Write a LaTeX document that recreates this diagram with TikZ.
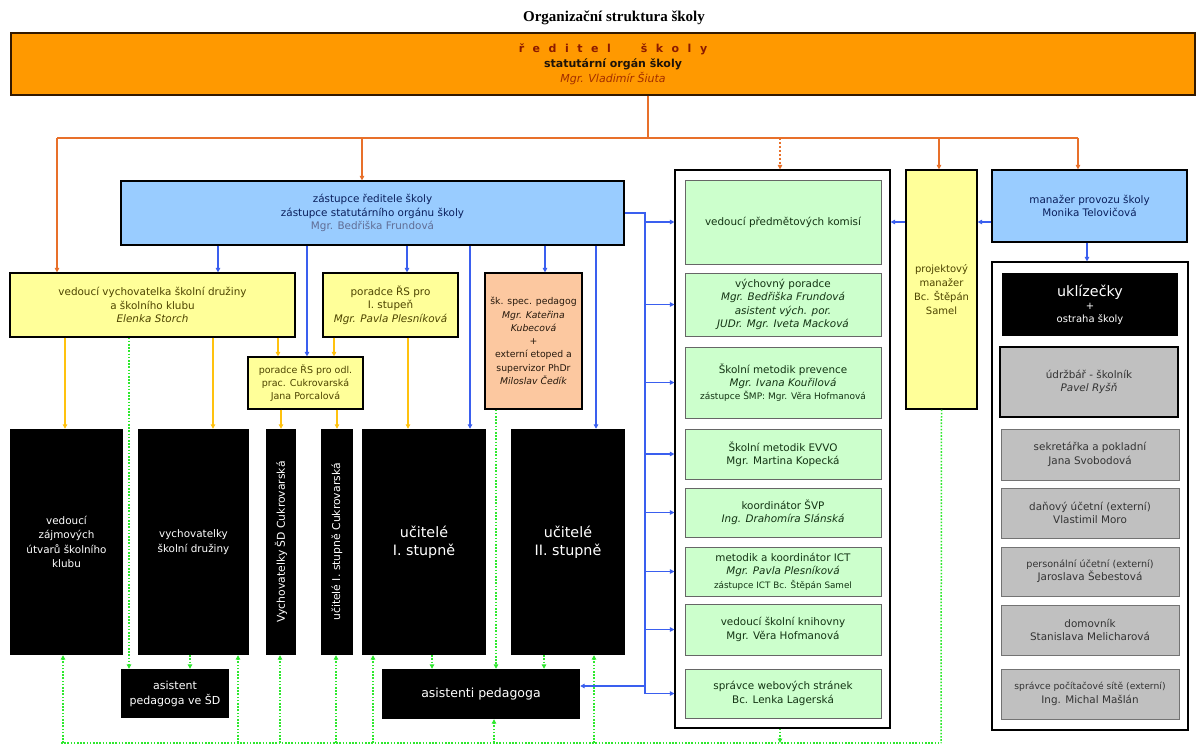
\documentclass[tikz,border=0pt]{standalone}
\usepackage{fontspec}
\setmainfont{DejaVu Sans}
\newfontfamily\titlefont{Liberation Serif}
\usetikzlibrary{arrows.meta}
\definecolor{hdrfill}{HTML}{FF9900}
\definecolor{ocol}{HTML}{E8702A}
\definecolor{bluefill}{HTML}{99CCFF}
\definecolor{bcol}{HTML}{3A5FEF}
\definecolor{yelfill}{HTML}{FFFF99}
\definecolor{ycol}{HTML}{FFC20E}
\definecolor{peachfill}{HTML}{FCC8A0}
\definecolor{grnfill}{HTML}{CCFFCC}
\definecolor{gcol}{HTML}{2EE82E}
\definecolor{greyfill}{HTML}{C0C0C0}
\definecolor{hdrred}{HTML}{8B1A00}
\definecolor{navy}{HTML}{0A1F5C}
\definecolor{olive}{HTML}{4D4400}
\definecolor{dkgreen}{HTML}{133313}
\newcommand{\mkbox}[7]{\node[#6,minimum width={(#4-#2)*1pt},minimum height={(#5-#3)*1pt}] (#1) at ({(#2+#4)/2},{(#3+#5)/2}) {#7};}
\newcommand{\fs}[2]{\fontsize{#1}{#2}\selectfont}
\newcommand{\lsp}{\hspace{8.5pt}}
\newcommand{\hsh}{\hspace*{20pt}}
\tikzset{
  base/.style={align=center,inner sep=1pt,font=\fs{10.4}{13.3}},
  hdrbox/.style={base,draw=black!80!orange,line width=1.3pt,fill=hdrfill},
  bluebox/.style={base,draw=black,line width=1.2pt,fill=bluefill,text=navy},
  yelbox/.style={base,draw=black,line width=1.2pt,fill=yelfill,text=olive},
  peachbox/.style={base,draw=black,line width=1.2pt,fill=peachfill,text=black!80!brown},
  blackbox/.style={base,fill=black,text=white},
  frame/.style={draw=black,line width=1.2pt,fill=white},
  grnbox/.style={base,draw=black!60,line width=0.9pt,fill=grnfill,text=dkgreen},
  greybox/.style={base,draw=black!55,line width=0.9pt,fill=greyfill,text=black!80},
  tipA/.style={-{Triangle[length=4.5pt,width=4.5pt]}},
  ocon/.style={draw=ocol,line width=1.5pt},
  bcon/.style={draw=bcol,line width=1.5pt},
  ycon/.style={draw=ycol,line width=1.5pt},
  gcon/.style={draw=gcol,line width=1.5pt,dash pattern=on 1.6pt off 1.6pt},
}
\begin{document}
\begin{tikzpicture}[x=1pt,y=-1pt]
\fill[white] (0,0) rectangle (1202,746);
\useasboundingbox (0,0) rectangle (1202,746);
\node[font=\titlefont\bfseries\fs{15}{17}] (title) at (614,18) {Organizační struktura školy};
% header
\mkbox{head}{11}{33}{1195}{95}{hdrbox,font=\fs{11}{15}}{\hsh{\color{hdrred}\bfseries ř\lsp e\lsp d\lsp i\lsp t\lsp e\lsp l\hspace{30pt}š\lsp k\lsp o\lsp l\lsp y}\\\hsh{\color{black!85!brown}\bfseries statutární orgán školy}\\\hsh{\color{hdrred!80!orange}\itshape Mgr. Vladimír Šiuta}}
% blue deputy
\mkbox{zast}{121}{181}{624}{245}{bluebox}{zástupce ředitele školy\\zástupce statutárního orgánu školy\\{\color{navy!65!white}Mgr. Bedřiška Frundová}}
% yellow
\mkbox{yl}{10}{273}{295}{337}{yelbox}{vedoucí vychovatelka školní družiny\\a školního klubu\\\textit{Elenka Storch}}
\mkbox{yp}{323}{273}{458}{337}{yelbox}{poradce ŘS pro\\I. stupeň\\\textit{Mgr. Pavla Plesníková}}
\mkbox{ys}{248}{357}{363}{409}{yelbox,font=\fs{9.5}{13}}{poradce ŘS pro odl.\\prac. Cukrovarská\\Jana Porcalová}
\mkbox{os}{485}{273}{582}{409}{peachbox,font=\fs{9.3}{13.3}}{šk. spec. pedagog\\\textit{Mgr. Kateřina}\\\textit{Kubecová}\\+\\externí etoped a\\supervizor PhDr\\\textit{Miloslav Čedík}}
% black boxes
\mkbox{b1}{10}{429}{123}{655}{blackbox,font=\fs{10.4}{14.5}}{vedoucí\\zájmových\\útvarů školního\\klubu}
\mkbox{b2}{138}{429}{249}{655}{blackbox,font=\fs{10.4}{14.5}}{vychovatelky\\školní družiny}
\mkbox{b3}{266}{429}{296}{655}{blackbox}{}
\node[rotate=90,text=white,font=\fs{10.8}{13}] (b3t) at (b3) {Vychovatelky ŠD Cukrovarská};
\mkbox{b4}{321}{429}{353}{655}{blackbox}{}
\node[rotate=90,text=white,font=\fs{10.8}{13}] (b4t) at (b4) {učitelé I. stupně Cukrovarská};
\mkbox{b5}{362}{429}{486}{655}{blackbox,font=\fs{14.3}{18}}{učitelé\\I. stupně}
\mkbox{b6}{511}{429}{625}{655}{blackbox,font=\fs{14.3}{18}}{učitelé\\II. stupně}
\mkbox{asd}{121}{669}{229}{718}{blackbox,font=\fs{11}{15}}{asistent\\pedagoga ve ŠD}
\mkbox{asp}{382}{669}{580}{719}{blackbox,font=\fs{12.5}{15}}{asistenti pedagoga}
% green column
\mkbox{gc}{675}{170}{890}{728}{frame}{}
\mkbox{g1}{685}{180}{881}{264}{grnbox}{vedoucí předmětových komisí}
\mkbox{g2}{685}{273}{881}{336}{grnbox}{výchovný poradce\\\textit{Mgr. Bedřiška Frundová}\\\textit{asistent vých. por.}\\\textit{JUDr. Mgr. Iveta Macková}}
\mkbox{g3}{685}{347}{881}{418}{grnbox}{Školní metodik prevence\\\textit{Mgr. Ivana Kouřilová}\\{\fs{9}{12}zástupce ŠMP: Mgr. Věra Hofmanová}}
\mkbox{g4}{685}{429}{881}{479}{grnbox}{Školní metodik EVVO\\Mgr. Martina Kopecká}
\mkbox{g5}{685}{488}{881}{537}{grnbox}{koordinátor ŠVP\\\textit{Ing. Drahomíra Slánská}}
\mkbox{g6}{685}{547}{881}{596}{grnbox}{metodik a koordinátor ICT\\\textit{Mgr. Pavla Plesníková}\\{\fs{8.8}{12}zástupce ICT Bc. Štěpán Samel}}
\mkbox{g7}{685}{604}{881}{655}{grnbox}{vedoucí školní knihovny\\Mgr. Věra Hofmanová}
\mkbox{g8}{685}{669}{881}{718}{grnbox}{správce webových stránek\\Bc. Lenka Lagerská}
% right side
\mkbox{pm}{906}{170}{977}{409}{yelbox,font=\fs{10}{14}}{projektový\\manažer\\Bc. Štěpán\\Samel}
\mkbox{mp}{992}{170}{1187}{242}{bluebox}{manažer provozu školy\\Monika Telovičová}
\mkbox{rc}{992}{262}{1188}{730}{frame}{}
\mkbox{r1}{1002}{273}{1178}{336}{blackbox,font=\fs{10}{13}}{{\fs{14.3}{17}uklízečky}\\+\\ostraha školy}
\mkbox{r2}{1000}{347}{1178}{417}{greybox,draw=black,line width=1.2pt}{údržbář - školník\\\textit{Pavel Ryšň}}
\mkbox{r3}{1001}{429}{1179}{480}{greybox}{sekretářka a pokladní\\Jana Svobodová}
\mkbox{r4}{1001}{488}{1179}{538}{greybox}{daňový účetní (externí)\\Vlastimil Moro}
\mkbox{r5}{1001}{547}{1179}{596}{greybox}{{\fs{9.6}{13}personální účetní (externí)}\\Jaroslava Šebestová}
\mkbox{r6}{1001}{605}{1179}{655}{greybox}{domovník\\Stanislava Melicharová}
\mkbox{r7}{1001}{669}{1179}{719}{greybox}{{\fs{9.2}{13}správce počítačové sítě (externí)}\\Ing. Michal Mašlán}
% orange connectors
\coordinate (ob) at (648,138);
\coordinate (o1) at (57,138);
\coordinate (o2) at (362,138);
\coordinate (o3) at (780,138);
\coordinate (o4) at (939,138);
\coordinate (o5) at (1078,138);
\draw[ocon] (head.south -| ob) -- (ob);
\draw[ocon] (o1) -- (o5);
\draw[ocon,tipA] (o1) -- (yl.north -| o1);
\draw[ocon,tipA] (o2) -- (zast.north -| o2);
\draw[ocon,tipA,dash pattern=on 2pt off 2pt] (o3) -- (gc.north -| o3);
\draw[ocon,tipA] (o4) -- (pm.north -| o4);
\draw[ocon,tipA] (o5) -- (mp.north -| o5);
% blue connectors
\foreach \x/\t in {218/yl,307/ys,407/yp,470/b5,545/os,596/b6}
  \draw[bcon,tipA] (zast.south -| \x,0) -- (\t.north -| \x,0);
\coordinate (bt) at (645,213);
\coordinate (ba) at (645,686);
\draw[bcon] (zast.east |- bt) -- (bt) -- (bt |- g8);
\foreach \g in {g1,g2,g3,g4,g5,g6,g7,g8}
  \draw[bcon,tipA] (bt |- \g) -- (gc.west |- \g);
\draw[bcon,tipA] (ba) -- (asp.east |- ba);
\draw[bcon,tipA] (pm.west |- g1) -- (gc.east |- g1);
\draw[bcon,tipA] (mp.west |- g1) -- (pm.east |- g1);
\draw[bcon,tipA] (mp.south -| 1087,0) -- (rc.north -| 1087,0);
% yellow connectors
\draw[ycon,tipA] (yl.south -| 65,0) -- (b1.north -| 65,0);
\draw[ycon,tipA] (yl.south -| 213,0) -- (b2.north -| 213,0);
\draw[ycon,tipA] (yl.south -| 278,0) -- (ys.north -| 278,0);
\draw[ycon,tipA] (yp.south -| 334,0) -- (ys.north -| 334,0);
\draw[ycon,tipA] (ys.south -| b3) -- (b3.north);
\draw[ycon,tipA] (ys.south -| b4) -- (b4.north);
\draw[ycon,tipA] (yp.south -| 408,0) -- (b5.north -| 408,0);
% green dotted connectors
\coordinate (gl) at (61,743);
\coordinate (gr) at (941,743);
\draw[gcon] (gl) -- (gr);
\foreach \x/\t in {63/b1,238/b2,280/b3,336/b4,373/b5,594/b6}
  \draw[gcon,tipA] (gl -| \x,0) -- (\t.south -| \x,0);
\draw[gcon,tipA] (yl.south -| 129,0) -- (asd.north -| 129,0);
\draw[gcon,tipA] (b2.south -| 190,0) -- (asd.north -| 190,0);
\draw[gcon,tipA] (b5.south -| 432,0) -- (asp.north -| 432,0);
\draw[gcon,tipA] (os.south -| 496,0) -- (asp.north -| 496,0);
\draw[gcon,tipA] (b6.south -| 544,0) -- (asp.north -| 544,0);
\draw[gcon,tipA] (gl -| 494,0) -- (asp.south -| 494,0);
\draw[gcon,tipA] (gc.south -| 780,0) -- (gl -| 780,0);
\draw[gcon] (pm.south) -- (gr);
\end{tikzpicture}
\end{document}
